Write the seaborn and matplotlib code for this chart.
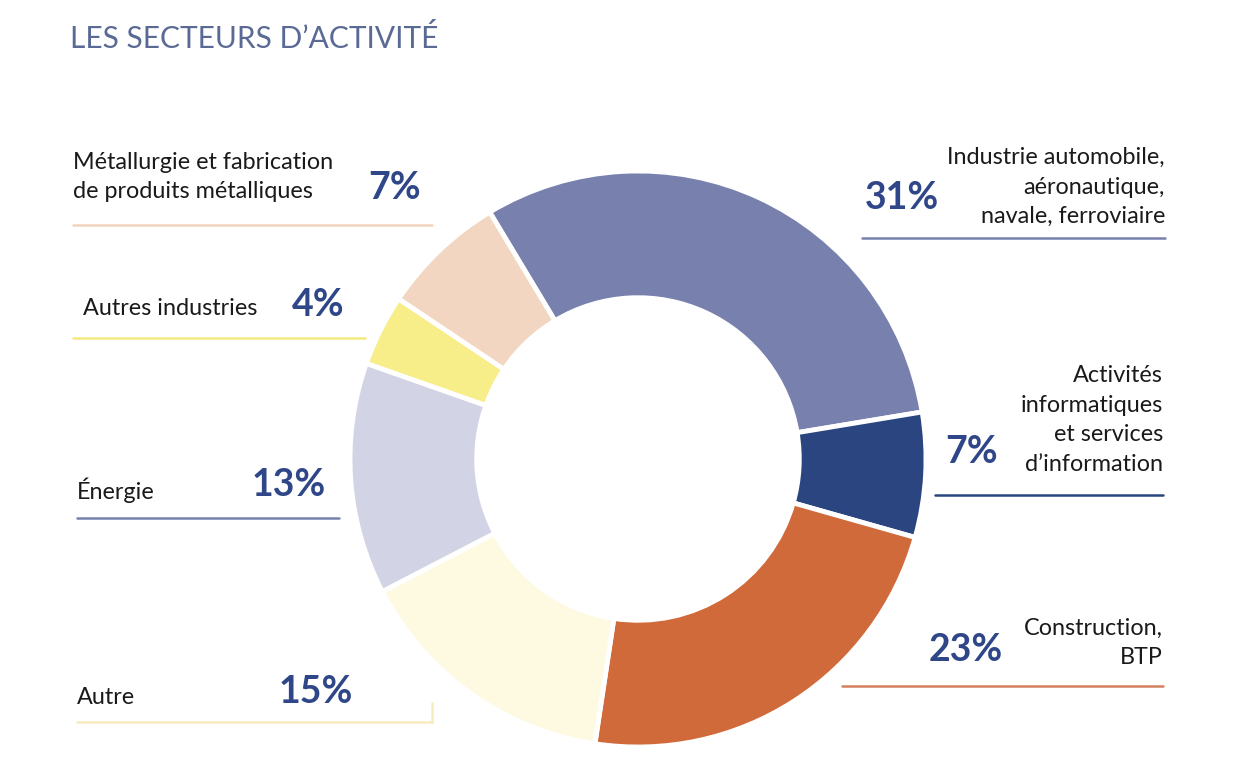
import matplotlib
matplotlib.use("Agg")
import matplotlib.pyplot as plt
from matplotlib.lines import Line2D
import seaborn as sns

# Données
secteurs = [
    "Industrie automobile,\naéronautique,\nnavale, ferroviaire",
    "Activités\ninformatiques\net services\nd’information",
    "Construction,\nBTP",
    "Autre",
    "Énergie",
    "Autres industries",
    "Métallurgie et fabrication\nde produits métalliques",
]
parts = [31, 7, 23, 15, 13, 4, 7]
couleurs = ["#7880AD", "#2B4580", "#D06A3A", "#FEF9E1", "#D2D4E6", "#F7EE8A", "#F2D6C1"]
couleurs_traits = ["#7880AD", "#2B4580", "#D58060", "#F5EDBE", "#7880AD", "#F3EA80", "#F2D3C0"]

sns.set_theme(style="white")
plt.rcParams["font.family"] = ["Lato", "DejaVu Sans"]

W, H = 1240, 768
fig = plt.figure(figsize=(W / 100, H / 100), dpi=100)
fig.patch.set_facecolor("white")

def fx(px):
    return px / W

def fy(py):
    return 1 - py / H

# 🍩 Donut
cx, cy, r = 638, 459, 288
ax = fig.add_axes([fx(cx - r), fy(cy + r), 2 * r / W, 2 * r / H])
ax.pie(parts, colors=couleurs, startangle=121, counterclock=False, radius=1,
       wedgeprops=dict(width=0.44, edgecolor="white", linewidth=3.5))
ax.set_xlim(-1, 1)
ax.set_ylim(-1, 1)
ax.axis("off")

# Titre
fig.text(fx(70), fy(38), "LES SECTEURS D’ACTIVITÉ", fontsize=21.5, fontweight="normal",
         color="#5A6A95", va="center", ha="left")

bleu = "#2F4788"

# (label x, label y, ha, pct x, pct y, ligne x0, x1, ligne y)
positions = [
    (1165, 187, "right", 902, 198, 862, 1165, 238),
    (1163, 420, "right", 972, 452, 935, 1163, 495),
    (1163, 643, "right", 966, 650, 842, 1163, 686),
    (77, 697, "left", 316, 692, 77, 432, 722),
    (77, 490, "left", 289, 485, 77, 339, 518),
    (83, 308, "left", 318, 305, 73, 365, 338),
    (73, 177, "left", 395, 188, 73, 432, 225),
]

for lab, val, ct, pos in zip(secteurs, parts, couleurs_traits, positions):
    lx, ly, ha, px, py, x0, x1, yl = pos
    fig.text(fx(lx), fy(ly), lab, fontsize=16.8, color="#1A1A1A", ha=ha, va="center",
             multialignment=ha, linespacing=1.5)
    fig.text(fx(px), fy(py), f"{val}%", fontsize=27, fontweight="bold", color=bleu,
             ha="center", va="center")
    fig.add_artist(Line2D([fx(x0), fx(x1)], [fy(yl), fy(yl)], color=ct, linewidth=1.8))

# petit trait vertical sous "Autre"
fig.add_artist(Line2D([fx(432), fx(432)], [fy(703), fy(722)], color="#F5EDBE", linewidth=1.8))

plt.savefig("out.png", dpi=100, facecolor="white")
plt.close()
